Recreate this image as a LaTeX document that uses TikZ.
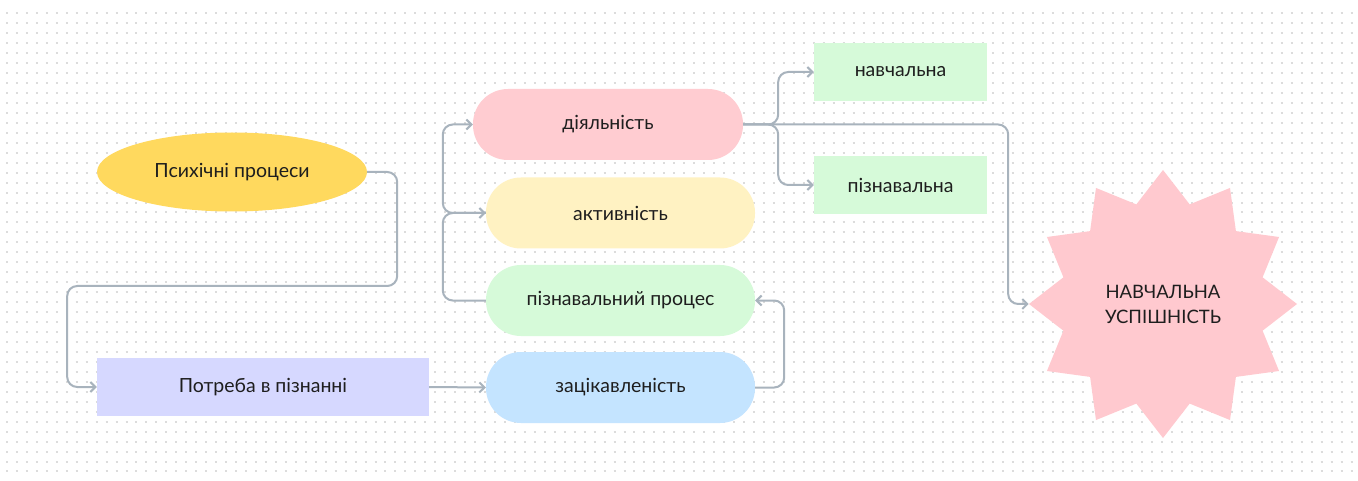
\documentclass[tikz,border=0pt]{standalone}
\usepackage{fontspec}
\setmainfont{Lato}
\usetikzlibrary{shapes.geometric,arrows.meta}
\definecolor{dotc}{HTML}{DCDCDC}
\definecolor{linec}{HTML}{A8B3BD}
\definecolor{ellc}{HTML}{FFD95E}
\definecolor{lavc}{HTML}{D6D8FF}
\definecolor{pinkc}{HTML}{FFCCD1}
\definecolor{yelc}{HTML}{FFF2C2}
\definecolor{grnc}{HTML}{D6FAD9}
\definecolor{bluc}{HTML}{C4E4FF}
\definecolor{starc}{HTML}{FFC9CF}
\definecolor{txtc}{HTML}{1E1E1E}
\begin{document}
\begin{tikzpicture}[x=1pt,y=-1pt,
  every node/.style={text=txtc,font=\fontsize{19.5}{23}\selectfont,inner sep=0pt},
  pill/.style={rectangle,rounded corners=35pt,minimum width=269pt,minimum height=71pt},
  boxn/.style={rectangle,minimum height=58pt},
  conn/.style={draw=linec,line width=2pt,rounded corners=10pt,
    -{Straight Barb[length=5pt,width=10pt,line width=2pt]}}]
\useasboundingbox (0,0) rectangle (1358,481);
\fill[white] (0,0) rectangle (1358,481);
% dotted background
\foreach \r in {0,...,46}{
  \draw[dotc,line width=2pt,dash pattern=on 2pt off 7.96pt,dash phase=0pt]
    (6,{13.3+9.96*\r}) -- (1358,{13.3+9.96*\r});
}
% nodes
\node[ellipse,fill=ellc,minimum width=270pt,minimum height=79pt] (psy) at (232,172) {Психічні процеси};
\node[boxn,fill=lavc,minimum width=332pt] (need) at (263,387) {Потреба в пізнанні};
\node[pill,fill=pinkc,minimum width=270pt] (dial) at (608,124.5) {діяльність};
\node[pill,fill=yelc] (akt) at (620.5,213) {активність};
\node[pill,fill=grnc] (proc) at (620.5,300.5) {пізнавальний процес};
\node[pill,fill=bluc] (zac) at (620.5,387.5) {зацікавленість};
\node[boxn,fill=grnc,minimum width=173pt] (navch) at (900.5,72) {навчальна};
\node[boxn,fill=grnc,minimum width=173pt] (pizn) at (900.5,185) {пізнавальна};
\node[star,star points=12,star point ratio=1.3,minimum size=268pt,fill=starc,
      align=center,font=\fontsize{18.5}{25}\selectfont] (succ) at (1163,304) {НАВЧАЛЬНА\\УСПІШНІСТЬ};
% connectors
\draw[conn] (psy.east) -- ++(30,0) -- ++(0,114) -- ++(-330,0) |- (need.west);
\draw[conn] (need.east) -- (zac.west);
\draw[conn] (zac.east) -- ++(29,0) |- (proc.east);
\draw[conn] (proc.west) -- ++(-43,0) |- (akt.west);
\draw[conn] (akt.west) -- ++(-43,0) |- (dial.west);
\draw[conn] (dial.east) -- ++(35,0) |- (navch.west);
\draw[conn] (dial.east) -- ++(35,0) |- (pizn.west);
\draw[conn] (dial.east) -- ++(265,0) |- (succ.west);
\end{tikzpicture}
\end{document}
